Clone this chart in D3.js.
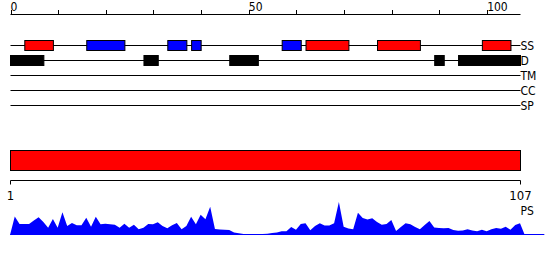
<!DOCTYPE html>
<html><head><meta charset="utf-8">
<script src="https://cdn.jsdelivr.net/npm/d3@7"></script>
<style>body{margin:0;background:#fff}svg{display:block}text{font-family:"DejaVu Sans Condensed","DejaVu Sans",sans-serif}</style>
</head><body>
<script>
const seqLength = 107;
const tracks = ["SS", "D", "TM", "CC", "SP"];
const topTicks = [0, 10, 20, 30, 40, 50, 60, 70, 80, 90, 100];
const topTickLabels = [0, 50, 100];
const helixRanges = [[3, 9], [62, 71], [77, 86], [99, 105]];
const strandRanges = [[16, 24], [33, 37], [38, 40], [57, 61]];
const disorderRanges = [[0, 7], [28, 31], [46, 52], [89, 91], [94, 107]];
const domainRange = [0, 107];
const bottomTickLabels = ["1", "107"];
const psValues = [0, 18.5, 11, 11, 11, 14.5, 17.7, 13, 7.3, 16,
  7.3, 22.7, 9, 12, 9.7, 9.7, 17.3, 8.3, 18.3, 10.7,
  11.3, 10.8, 10.3, 7.3, 11.3, 7.3, 10.3, 5.7, 7.3, 11,
  10.7, 12.7, 9, 6.7, 9.7, 12, 5.7, 9, 18.3, 10.7,
  20.3, 15.7, 28.3, 6, 5.5, 5.3, 5, 2.5, 1.7, 1,
  1, 1, 1, 1, 1.2, 2, 2.5, 3.7, 3.7, 8,
  5.3, 11, 11.7, 4.7, 9, 11.7, 9.5, 9.5, 11.7, 33,
  8.3, 6.5, 5.7, 22.3, 17, 15.5, 16.7, 13, 10.3, 11,
  15, 4, 8, 11.7, 10.7, 8, 5.7, 10, 14, 7.5,
  7, 6.7, 7, 5, 4.3, 4.5, 5.7, 4.5, 3.7, 5.3,
  3.7, 5.7, 7, 6.3, 8.3, 5.3, 10, 11.7, 0, 0,
  0, 0, 0];

const W = 550, H = 260;
const svg = d3.select("body").append("svg").attr("width", W).attr("height", H);
const x = d3.scaleLinear().domain([0, seqLength]).range([10.5, 520.5]);
const yTrack = d3.scalePoint().domain(tracks).range([45.5, 105.5]);

// top axis
const gTop = svg.append("g");
gTop.append("line").attr("x1", x(0)).attr("x2", x(seqLength)).attr("y1", 14.5).attr("y2", 14.5).attr("stroke", "#000");
gTop.selectAll(".tk").data(topTicks).join("line")
  .attr("x1", d => Math.round(x(d)) + 0.5).attr("x2", d => Math.round(x(d)) + 0.5)
  .attr("y1", 10).attr("y2", 14.5).attr("stroke", "#000");
gTop.selectAll(".tl").data(topTickLabels).join("text")
  .attr("x", d => x(d)).attr("y", 11).attr("font-size", 12).attr("fill", "#000").text(d => d);

// track lines
svg.selectAll(".trk").data(tracks).join("line")
  .attr("x1", x(0)).attr("x2", x(seqLength))
  .attr("y1", d => yTrack(d)).attr("y2", d => yTrack(d)).attr("stroke", "#000");
svg.selectAll(".trl").data(tracks).join("text")
  .attr("x", x(seqLength)).attr("y", d => yTrack(d) + 4.5)
  .attr("font-size", 12).attr("fill", "#000").text(d => d);

function boxes(data, track, fill) {
  svg.append("g").selectAll("rect").data(data).join("rect")
    .attr("x", d => x(d[0])).attr("width", d => x(d[1]) - x(d[0]))
    .attr("y", yTrack(track) - 5).attr("height", 10)
    .attr("fill", fill).attr("stroke", "#000").attr("stroke-width", 1);
}
boxes(helixRanges, "SS", "#ff0000");
boxes(strandRanges, "SS", "#0000ff");
boxes(disorderRanges, "D", "#000000");

// domain bar
svg.append("rect").attr("x", x(domainRange[0])).attr("width", x(domainRange[1]) - x(domainRange[0]))
  .attr("y", 150.5).attr("height", 20).attr("fill", "#ff0000").attr("stroke", "#000");

// bottom axis
const xb = d3.scaleLinear().domain([1, seqLength]).range([x(0), x(seqLength)]);
svg.append("line").attr("x1", xb(1)).attr("x2", xb(seqLength)).attr("y1", 180.5).attr("y2", 180.5).attr("stroke", "#000");
svg.selectAll(".bt").data(bottomTickLabels).join("line")
  .attr("x1", d => xb(+d)).attr("x2", d => xb(+d)).attr("y1", 180.5).attr("y2", 184.5).attr("stroke", "#000");
svg.selectAll(".btl").data(bottomTickLabels).join("text")
  .attr("x", d => xb(+d)).attr("y", 200).attr("text-anchor", "middle")
  .attr("font-size", 13).attr("fill", "#000").text(d => d);

// PS area
const yPS = d3.scaleLinear().domain([0, 35]).range([235, 200]);
const area = d3.area().x((d, i) => x(i) - 0.5).y0(yPS(0)).y1(d => yPS(d));
svg.append("path").datum(psValues).attr("d", area).attr("fill", "#0000ff");
svg.append("line").attr("x1", x(0)).attr("x2", x(psValues.length - 1)).attr("y1", yPS(0) - 0.5).attr("y2", yPS(0) - 0.5)
  .attr("stroke", "#0000ff");
svg.append("text").attr("x", x(seqLength)).attr("y", 215).attr("font-size", 12).attr("fill", "#000").text("PS");
</script>
</body></html>
